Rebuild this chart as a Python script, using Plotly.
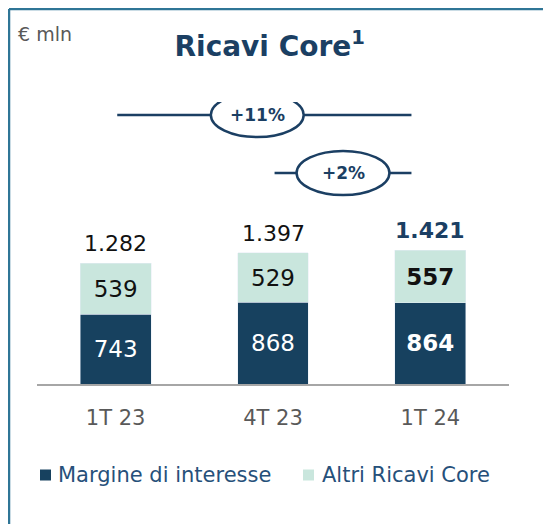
import plotly.graph_objects as go

# ---- data ----
categories = ["1T 23", "4T 23", "1T 24"]
margine = [743, 868, 864]
altri = [539, 529, 557]
series_names = ["Margine di interesse", "Altri Ricavi Core"]
growth_labels = ["+11%", "+2%"]

totals = [a + b for a, b in zip(margine, altri)]
fmt = lambda v: f"{v:,}".replace(",", ".")

DARK = "#17415f"
LIGHT = "#c9e6dd"
NAVY = "#1b3f63"
GRAY = "#595959"
LEG = "#26507a"
FONT = "DejaVu Sans"

def txt(vals):
    out = []
    for i, v in enumerate(vals):
        s = fmt(v)
        out.append(f"<b>{s}</b>" if i == len(vals) - 1 else s)
    return out

fig = go.Figure()
fig.add_trace(go.Bar(
    x=categories, y=margine, name=series_names[0], marker_color=DARK,
    text=txt(margine), textposition="inside", insidetextanchor="middle",
    textfont=dict(color="white", size=23, family=FONT), width=0.45,
    hoverinfo="skip"))
fig.add_trace(go.Bar(
    x=categories, y=altri, name=series_names[1], marker_color=LIGHT,
    text=txt(altri), textposition="inside", insidetextanchor="middle",
    textfont=dict(color="#111111", size=23, family=FONT), width=0.45,
    hoverinfo="skip"))

# totals above bars
for i, (c, t) in enumerate(zip(categories, totals)):
    last = i == len(totals) - 1
    fig.add_annotation(
        x=c, y=t, text=(f"<b>{fmt(t)}</b>" if last else fmt(t)),
        showarrow=False, yanchor="bottom", yshift=5,
        font=dict(size=22, family=FONT, color=(NAVY if last else "#111111")))

# growth brackets
brackets = [
    # (x_start, x_end, y_line, ellipse center x, label)
    (0.01, 1.88, 2862, 0.90, growth_labels[0]),
    (1.01, 1.88, 2245, 1.445, growth_labels[1]),
]
for x0, x1, yl, xc, lab in brackets:
    fig.add_shape(type="line", xref="x", yref="y", x0=x0, x1=x1, y0=yl, y1=yl,
                  line=dict(color=NAVY, width=2.5), layer="above")
    fig.add_shape(type="circle", xref="x", yref="y", x0=xc - 0.295, x1=xc + 0.295,
                  y0=yl - 235, y1=yl + 235, fillcolor="white",
                  line=dict(color=NAVY, width=2.5), layer="above")
    fig.add_annotation(x=xc, y=yl, text=f"<b>{lab}</b>", showarrow=False,
                       font=dict(size=17, family=FONT, color=NAVY))

# frame (top and left borders)
BORDER = "#2f7596"
fig.add_shape(type="line", xref="paper", yref="paper", x0=-0.0593, x1=1.2,
              y0=1.3298, y1=1.3298, line=dict(color=BORDER, width=2.5))
fig.add_shape(type="line", xref="paper", yref="paper", x0=-0.0593, x1=-0.0593,
              y0=1.3298, y1=-0.6, line=dict(color=BORDER, width=2.5))

fig.add_annotation(xref="paper", yref="paper", x=-0.045, y=1.24, xanchor="left",
                   yanchor="middle", text="€ mln", showarrow=False,
                   font=dict(size=19, family=FONT, color=GRAY))

# legend (drawn as swatches + labels, positioned like the reference)
legend_items = [
    (series_names[0], DARK, 0.00636, 0.0403),
    (series_names[1], LIGHT, 0.5636, 0.5996),
]
for name, col, sx, tx in legend_items:
    fig.add_shape(type="rect", xref="paper", yref="paper", x0=sx, x1=sx + 0.0233,
                  y0=-0.3422, y1=-0.3032, fillcolor=col, line=dict(width=0))
    fig.add_annotation(xref="paper", yref="paper", x=tx, y=-0.3227, xanchor="left",
                       yanchor="middle", text=name, showarrow=False,
                       font=dict(size=21, family=FONT, color=LEG))

fig.update_layout(
    width=551, height=524,
    margin=dict(l=29, r=50, t=94, b=148),
    barmode="stack",
    plot_bgcolor="white", paper_bgcolor="white",
    font=dict(family=FONT),
    title=dict(text="<b>Ricavi Core<sup>1</sup></b>", x=0.475, xanchor="center",
               y=0.927, yanchor="middle",
               font=dict(size=28, family=FONT, color=NAVY)),
    showlegend=False,
    xaxis=dict(range=[-0.5, 2.5], showline=True, linecolor="#a6a6a6", linewidth=2,
               ticks="", ticklabelstandoff=14,
               tickfont=dict(size=21, family=FONT, color=GRAY),
               showgrid=False, fixedrange=True),
    yaxis=dict(range=[0, 3000], visible=False, showgrid=False, fixedrange=True),
)

fig.write_html("out.html")
